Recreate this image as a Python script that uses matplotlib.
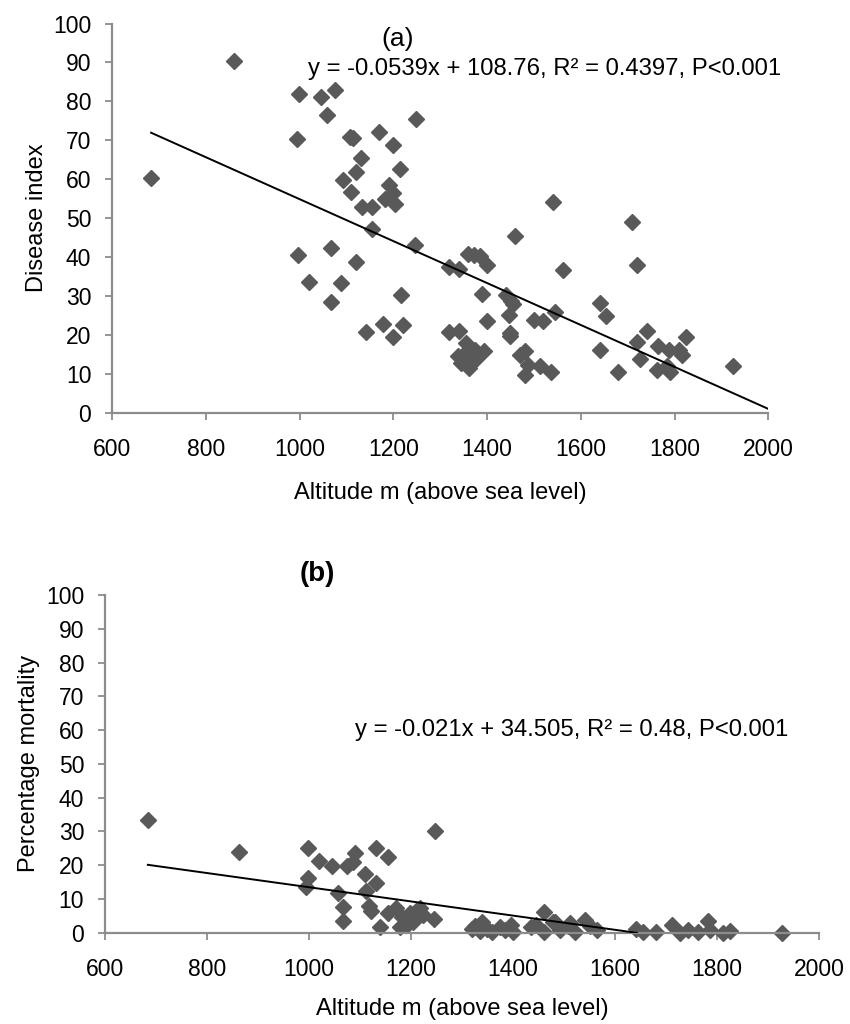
#!/usr/bin/env python3

import numpy as np
import matplotlib
matplotlib.use("Agg")
import matplotlib.pyplot as plt

plt.rcParams['font.family'] = ['Liberation Sans', 'DejaVu Sans']

# (a) disease index vs altitude
alt_a = [683, 860, 999, 1045, 1076, 1058, 995, 1108, 1113, 1170, 1248, 1200, 1131, 1215,
         1121, 1092, 1109, 1190, 1200, 1183, 1204, 1133, 1154, 1154, 1245, 996, 1067, 1121,
         1019, 1088, 1067, 1216, 1141, 1178, 1200, 1220, 1318, 1339, 1360, 1371, 1385, 1400,
         1390, 1400, 1319, 1339, 1355, 1337, 1344, 1362, 1376, 1394, 1373, 1350, 1367,
         1540, 1710, 1460, 1719, 1562, 1441, 1451, 1456, 1641, 1654, 1545, 1446, 1499, 1520,
         1449, 1449, 1741, 1719, 1824, 1764, 1788, 1809, 1816, 1640, 1725, 1924, 1680, 1762,
         1783, 1791, 1537, 1481, 1488, 1513, 1471, 1481]
di_a = [60.2, 90.5, 82.0, 81.2, 82.8, 76.6, 70.4, 70.9, 70.6, 72.2, 75.5, 68.7, 65.5, 62.7,
        61.8, 59.8, 56.6, 58.6, 56.5, 54.9, 53.6, 52.9, 52.9, 47.2, 43.2, 40.5, 42.3, 38.7,
        33.7, 33.4, 28.4, 30.3, 20.7, 22.8, 19.4, 22.6, 37.4, 36.8, 40.8, 40.6, 40.2, 37.9,
        30.5, 23.5, 20.7, 21.1, 17.9, 14.5, 12.8, 11.5, 13.7, 15.8, 16.2, 15.0, 13.0,
        54.2, 48.9, 45.3, 37.9, 36.6, 30.3, 28.6, 27.8, 28.2, 24.9, 26.0, 25.2, 23.7, 23.5,
        20.5, 19.6, 20.9, 18.1, 19.5, 17.2, 16.2, 16.2, 14.9, 16.0, 13.8, 12.1, 10.4, 10.9,
        11.9, 10.4, 10.4, 9.8, 12.3, 11.9, 14.9, 15.8]
fit_a = [-0.0539, 108.76]

# (b) percentage mortality vs altitude
alt_b = [684, 863, 999, 1020, 1046, 1075, 1090, 999, 995, 1057, 1067, 1067, 1248, 1087,
         1131, 1154, 1110, 1132, 1112, 1118, 1121, 1139, 1154, 1171, 1182, 1178, 1198, 1204,
         1218, 1223, 1192, 1246, 1210, 1319, 1339, 1358, 1374, 1397, 1400, 1335, 1461, 1446,
         1436, 1460, 1479, 1492, 1508, 1522, 1541, 1551, 1564, 1482, 1512, 1642, 1655, 1681,
         1711, 1727, 1743, 1763, 1783, 1786, 1812, 1825, 1927, 1326, 1350, 1385]
mort_b = [33.4, 23.9, 25.1, 21.3, 19.8, 19.8, 23.6, 16.2, 13.5, 11.7, 7.8, 3.6, 30.2, 21.1,
          25.1, 22.4, 17.5, 14.9, 12.5, 8.0, 6.5, 1.6, 5.8, 7.3, 4.8, 1.6, 5.8, 3.3,
          7.3, 5.3, 2.4, 4.0, 6.5, 1.1, 3.3, 0.4, 1.7, 2.4, 0.4, 0.6, 6.3, 2.4,
          1.7, 0.4, 3.3, 0.9, 1.9, 0.4, 3.8, 1.9, 0.9, 3.3, 2.9, 1.2, 0.4, 0.4,
          2.4, 0.0, 0.7, 0.4, 3.6, 0.7, 0.0, 0.5, 0.0, 2.0, 1.2, 0.8]
fit_b = [-0.021, 34.505]

x_ticks = [600, 800, 1000, 1200, 1400, 1600, 1800, 2000]
y_ticks = [0, 10, 20, 30, 40, 50, 60, 70, 80, 90, 100]

MARK = '#595959'
SPINE = '#8c8c8c'
TICK_FS = 16.5
LAB_FS = 17
EQ_FS = 17.2


def style_axes(ax):
    ax.set_xlim(600, 2000)
    ax.set_ylim(0, 100)
    ax.set_xticks(x_ticks)
    ax.set_yticks(y_ticks)
    for s in ['top', 'right']:
        ax.spines[s].set_visible(False)
    for s in ['left', 'bottom']:
        ax.spines[s].set_color(SPINE)
        ax.spines[s].set_linewidth(1.6)
    ax.tick_params(direction='out', length=5, width=1.3, color=SPINE,
                   labelsize=TICK_FS)
    ax.tick_params(axis='x', pad=13)
    ax.tick_params(axis='y', pad=10)


def trend(ax, alt, fit, xmax):
    a, b = fit
    x0 = min(alt)
    x1 = min(xmax, -b / a)
    xs = np.array([x0, x1])
    ax.plot(xs, a * xs + b, color='black', lw=1.4, zorder=3)


def main():
    fig = plt.figure(figsize=(8.5, 10.24), dpi=100)
    ax1 = fig.add_axes([0.132, 0.597, 0.772, 0.38])
    ax2 = fig.add_axes([0.1235, 0.089, 0.84, 0.33])

    ax1.plot(alt_a, di_a, linestyle='none', marker='D', markersize=7.8,
             color=MARK, zorder=2)
    trend(ax1, alt_a, fit_a, 2000)
    style_axes(ax1)
    ax1.set_xlabel('Altitude m (above sea level)', fontsize=LAB_FS, labelpad=15)
    ax1.set_ylabel('Disease index', fontsize=LAB_FS, labelpad=4)
    ax1.text(1208, 96, '(a)', fontsize=19, ha='center', va='center', clip_on=False)
    ax1.text(1018, 88.2, 'y = -0.0539x + 108.76, R² = 0.4397, P<0.001', fontsize=EQ_FS,
             ha='left', va='center', clip_on=False)

    ax2.plot(alt_b, mort_b, linestyle='none', marker='D', markersize=7.8,
             color=MARK, zorder=2, clip_on=False)
    trend(ax2, alt_b, fit_b, 2000)
    style_axes(ax2)
    ax2.set_xlabel('Altitude m (above sea level)', fontsize=LAB_FS, labelpad=12)
    ax2.set_ylabel('Percentage mortality', fontsize=LAB_FS, labelpad=4)
    ax2.text(1016, 106.2, '(b)', fontsize=20, fontweight='bold', ha='center',
             va='center', clip_on=False)
    ax2.text(1090, 60, 'y = -0.021x + 34.505, R² = 0.48, P<0.001', fontsize=EQ_FS,
             ha='left', va='center', clip_on=False)

    fig.savefig('out.png', dpi=100, facecolor='white')


if __name__ == "__main__":
    main()
